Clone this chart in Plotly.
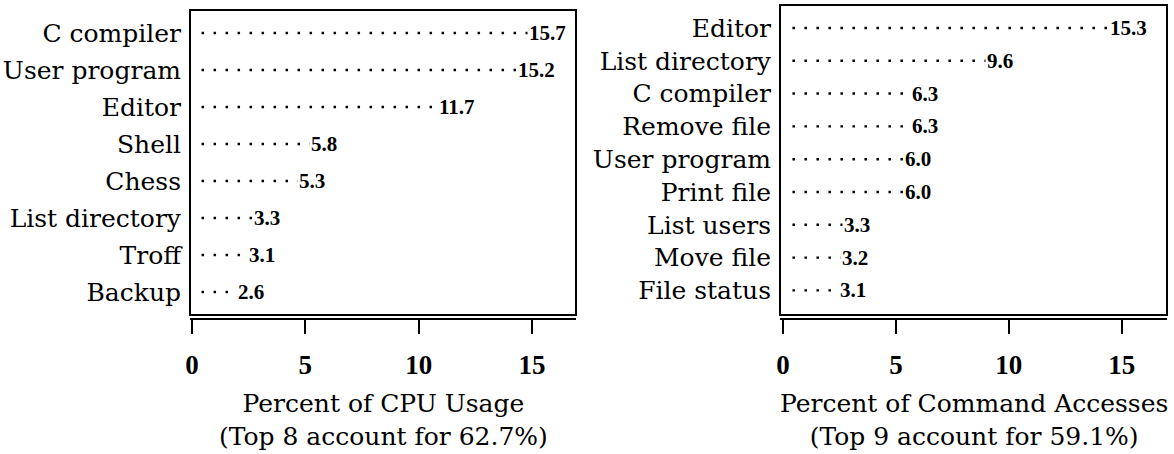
import plotly.graph_objects as go

# CPU usage by command (left panel)
cpu_commands = ["C compiler", "User program", "Editor", "Shell", "Chess",
                "List directory", "Troff", "Backup"]
cpu_percent = [15.7, 15.2, 11.7, 5.8, 5.3, 3.3, 3.1, 2.6]

# command accesses (right panel)
cmd_commands = ["Editor", "List directory", "C compiler", "Remove file",
                "User program", "Print file", "List users", "Move file", "File status"]
cmd_percent = [15.3, 9.6, 6.3, 6.3, 6.0, 6.0, 3.3, 3.2, 3.1]

x_ticks = [0, 5, 10, 15]
titles = ["Percent of CPU Usage<br>(Top 8 account for 62.7%)",
          "Percent of Command Accesses<br>(Top 9 account for 59.1%)"]

LABEL_FONT = dict(family="DejaVu Serif", size=25, color="black")
TICK_FONT = dict(family="Liberation Serif", size=27, color="black", weight="bold")
VALUE_FONT = dict(family="Liberation Serif", size=21, color="black", weight="bold")


def leader_trace(names, values, xaxis, yaxis):
    """Dotted leader from zero out to each value."""
    xs, ys = [], []
    for name, v in zip(names, values):
        xs += [0, v, None]
        ys += [name, name, None]
    return go.Scatter(
        x=xs, y=ys, mode="lines", xaxis=xaxis, yaxis=yaxis,
        line=dict(color="black", width=2.4, dash="0px,9.5px,2.5px,0px"),
        hoverinfo="skip", showlegend=False,
    )


fig = go.Figure()
fig.add_trace(leader_trace(cpu_commands, cpu_percent, "x", "y"))
fig.add_trace(leader_trace(cmd_commands, cmd_percent, "x2", "y2"))

annotations = []
for names, values, ax in [(cpu_commands, cpu_percent, ""), (cmd_commands, cmd_percent, "2")]:
    for name, v in zip(names, values):
        annotations.append(dict(
            x=v, y=name, xref="x" + ax, yref="y" + ax, text=f"{v:.1f}",
            showarrow=False, xanchor="center", yanchor="middle",
            bgcolor="white", borderpad=1, font=VALUE_FONT,
        ))

for i, t in enumerate(titles):
    ax = "" if i == 0 else "2"
    annotations.append(dict(
        x=0.5, y=1 - 420 / 454, xref=f"x{ax} domain", yref="paper", text=t,
        showarrow=False, xanchor="center", yanchor="middle", font=LABEL_FONT,
    ))

shapes = [
    dict(type="rect", xref="x domain", yref="y domain", x0=0, x1=1, y0=0, y1=1,
         line=dict(color="black", width=2)),
    dict(type="rect", xref="x2 domain", yref="y2 domain", x0=0, x1=1, y0=0, y1=1,
         line=dict(color="black", width=2)),
]

xaxis_common = dict(
    anchor="free", position=1 - 319 / 454, automargin=False,
    tickvals=x_ticks, ticks="outside", ticklen=14, tickwidth=2, tickcolor="black",
    showline=True, linewidth=2, linecolor="black", showgrid=False, zeroline=False,
    tickfont=TICK_FONT, ticklabelstandoff=8, fixedrange=True,
)
yaxis_common = dict(
    type="category", ticks="", showline=False, showgrid=False, zeroline=False,
    tickfont=LABEL_FONT, ticklabelstandoff=8, fixedrange=True, automargin=False,
)

fig.update_layout(
    width=1174, height=454,
    margin=dict(l=0, r=0, t=0, b=0, autoexpand=False),
    paper_bgcolor="white", plot_bgcolor="white",
    xaxis=dict(domain=[190 / 1174, 576 / 1174], range=[-0.09, 16.94], **xaxis_common),
    xaxis2=dict(domain=[780 / 1174, 1167 / 1174], range=[-0.13, 17.0], **xaxis_common),
    yaxis=dict(domain=[1 - 315 / 454, 1 - 10 / 454], anchor="x",
               categoryorder="array", categoryarray=cpu_commands,
               range=[len(cpu_commands) - 1 + 0.62, -0.62], **yaxis_common),
    yaxis2=dict(domain=[1 - 315 / 454, 1 - 5 / 454], anchor="x2",
                categoryorder="array", categoryarray=cmd_commands,
                range=[len(cmd_commands) - 1 + 0.75, -0.7], **yaxis_common),
    shapes=shapes,
    annotations=annotations,
    showlegend=False,
)

# drop the default body margin so the figure sits at the window's corner
fig.write_html(
    "out.html",
    config={"displayModeBar": False},
    post_script="document.body.style.margin='0';document.body.style.overflow='hidden';",
)
